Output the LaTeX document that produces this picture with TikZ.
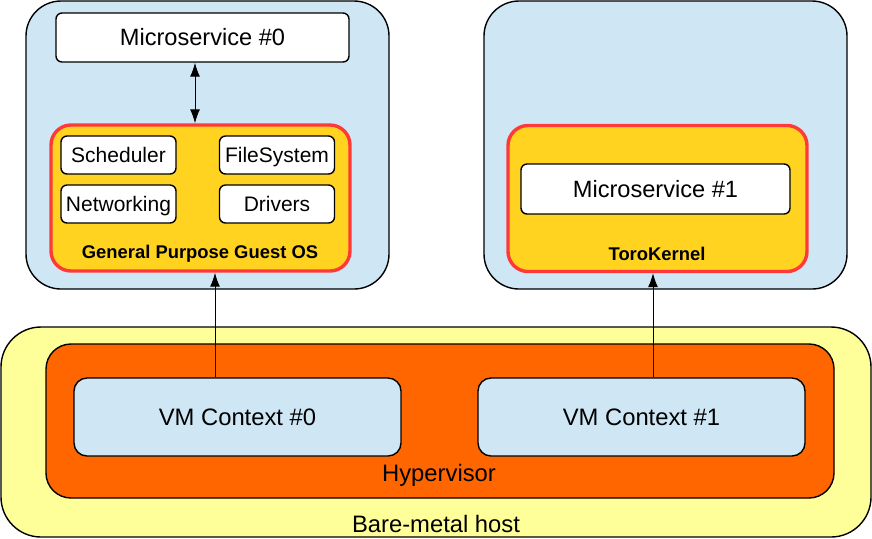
\documentclass[tikz,border=0pt]{standalone}
\usepackage{fontspec}
\setmainfont{Liberation Sans}
\usetikzlibrary{arrows.meta}

\definecolor{vmblue}{HTML}{CFE7F5}
\definecolor{osgold}{HTML}{FFD320}
\definecolor{osred}{HTML}{FF3838}
\definecolor{hvorange}{HTML}{FF6600}
\definecolor{hostyellow}{HTML}{FFFF99}

\tikzset{
  box/.style={draw=black, line width=0.7pt, rectangle, inner sep=0pt},
  vmbox/.style={box, fill=vmblue, rounded corners=17.5pt, minimum width=181.5pt, minimum height=144pt},
  osbox/.style={box, draw=osred, line width=1.7pt, fill=osgold, rounded corners=10pt, minimum width=149.5pt, minimum height=73pt},
  appbox/.style={box, fill=white, rounded corners=3pt, font=\fontsize{11.8}{14}\selectfont},
  partbox/.style={box, fill=white, rounded corners=3pt, minimum width=57.5pt, minimum height=19pt, text height=8.6pt, text depth=1.4pt, font=\fontsize{10.5}{12}\selectfont},
  ctxbox/.style={box, fill=vmblue, rounded corners=6.5pt, minimum width=163.5pt, minimum height=39pt, font=\fontsize{11.9}{14}\selectfont},
  oslabel/.style={font=\bfseries\fontsize{9.2}{11}\selectfont},
  biglabel/.style={font=\fontsize{11.9}{14}\selectfont},
  arr/.style={-{Latex[length=7pt,width=5pt]}, line width=0.5pt},
  arr2/.style={{Latex[length=7pt,width=5pt]}-{Latex[length=7pt,width=5pt]}, line width=0.5pt}
}

\begin{document}
\begin{tikzpicture}[x=0.5pt, y=-0.5pt]
  \useasboundingbox (0,0) rectangle (872,538);
  % host and hypervisor
  \node[box, fill=hostyellow, rounded corners=20pt, minimum width=435pt, minimum height=105pt] (host) at (436,432) {};
  \node[box, fill=hvorange, rounded corners=12.5pt, minimum width=394pt, minimum height=77pt] (hyper) at (440,421) {};
  \node[ctxbox] (ctx0) at (237.5,417) {VM Context \#0};
  \node[ctxbox] (ctx1) at (641.5,417) {VM Context \#1};
  \node[biglabel] (hyperlabel) at (439,475) {Hypervisor};
  \node[biglabel] (hostlabel) at (436,524) {Bare-metal host};
  % virtual machines
  \node[vmbox] (vm0) at (207.5,145) {};
  \node[vmbox] (vm1) at (665.5,145) {};
  \node[appbox, minimum width=146.5pt, minimum height=24.5pt] (ms0) at (202.5,37.5) {Microservice \#0};
  \node[osbox] (guest) at (200.5,198) {};
  \node[partbox] (sched) at (118.5,155) {Scheduler};
  \node[partbox] (fs) at (277,155) {FileSystem};
  \node[partbox] (net) at (118.5,204) {Networking};
  \node[partbox] (drv) at (277,204) {Drivers};
  \node[oslabel] (guestlabel) at (200,254) {General Purpose Guest OS};
  \node[osbox] (toro) at (657.5,198.5) {};
  \node[appbox, minimum width=134.5pt, minimum height=25pt] (ms1) at (655.5,189) {Microservice \#1};
  \node[oslabel] (torolabel) at (657,254) {ToroKernel};
  % connectors
  \draw[arr2] ([xshift=-3.75pt]ms0.south) coordinate (a0) -- (a0 |- guest.north);
  \draw[arr] ([xshift=-11.25pt]ctx0.north) coordinate (b0) -- (b0 |- guest.south);
  \draw[arr] ([xshift=5.75pt]ctx1.north) coordinate (b1) -- (b1 |- toro.south);
\end{tikzpicture}
\end{document}
